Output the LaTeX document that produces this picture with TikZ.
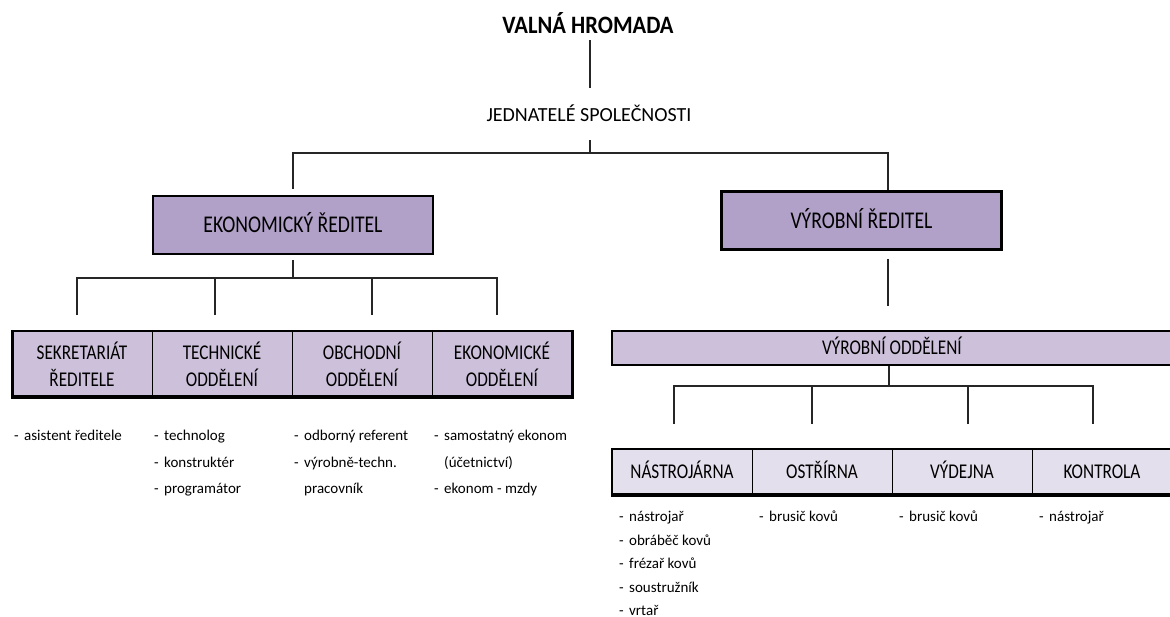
\documentclass[tikz,border=0pt]{standalone}
\usepackage{fontspec}
\setmainfont{Carlito}
\newfontfamily\boxfont{Carlito}[FakeStretch=0.82]
\newfontfamily\headfont{Carlito}[FakeStretch=0.9]
\definecolor{chiefpurple}{HTML}{B1A0C7}
\definecolor{deptpurple}{HTML}{CCC0DA}
\definecolor{shoplilac}{HTML}{E4DFEC}
\tikzstyle{head}=[inner sep=0pt,text height=16pt,text depth=0pt,font=\headfont\bfseries\fontsize{25}{30}\selectfont]
\tikzstyle{board}=[inner sep=0pt,text height=13pt,text depth=0pt,font=\fontsize{20}{24}\selectfont]
\tikzstyle{chief}=[draw=black,line width=2.5pt,fill=chiefpurple,minimum width=280pt,minimum height=58pt,inner sep=0pt,text height=15pt,text depth=0pt,font=\boxfont\fontsize{24}{28}\selectfont]
\tikzstyle{dept}=[draw=black,line width=0.8pt,fill=deptpurple,minimum width=140pt,minimum height=66pt,inner sep=0pt,align=center,font=\boxfont\fontsize{21}{27}\selectfont]
\tikzstyle{shop}=[draw=black,line width=0.8pt,fill=shoplilac,minimum width=140pt,minimum height=46pt,inner sep=0pt,text height=13.5pt,text depth=0pt,font=\boxfont\fontsize{21}{27}\selectfont]
\tikzstyle{frame}=[draw=black,line width=2.2pt]
\tikzstyle{duties}=[anchor=north west,inner sep=0pt,align=left,font=\fontsize{15}{26.5}\selectfont]
\tikzstyle{shopduties}=[anchor=north west,inner sep=0pt,align=left,font=\fontsize{15}{23.5}\selectfont]
\tikzstyle{tree}=[draw=black!85,line width=1.6pt]
\newcommand{\itemdash}{\makebox[10pt][l]{-}}
\newcommand{\itemgap}{\hspace*{10pt}}

\begin{document}
\begin{tikzpicture}[x=1pt,y=-1pt]
\useasboundingbox (0,0) rectangle (1170,616);
\clip (0,0) rectangle (1170,616);

\node[head] (valna) at (588,25) {VALNÁ HROMADA};
\node[board] (jedn) at (589,115) {JEDNATELÉ SPOLEČNOSTI};
\node[chief] (ekred) at (293,225) {EKONOMICKÝ ŘEDITEL};
\node[chief] (vyred) at (861.5,220.5) {VÝROBNÍ ŘEDITEL};

% economic departments
\node[dept] (sekr) at (82,364) {SEKRETARIÁT\\ŘEDITELE};
\node[dept] (tech) at (222,364) {TECHNICKÉ\\ODDĚLENÍ};
\node[dept] (obch) at (362,364) {OBCHODNÍ\\ODDĚLENÍ};
\node[dept] (ekod) at (502,364) {EKONOMICKÉ\\ODDĚLENÍ};
\draw[frame] (sekr.north west) rectangle (ekod.south east);
\draw[line width=3.5pt] ([yshift=1pt]sekr.south west) -- ([yshift=1pt]ekod.south east);
\draw[line width=3.5pt] ([xshift=1pt]sekr.north west) -- ([xshift=1pt]sekr.south west);

% production
\node[dept,minimum width=560pt,minimum height=34pt,line width=2.6pt,text height=13.5pt,text depth=0pt] (vyodd) at (892,348) {VÝROBNÍ ODDĚLENÍ};
\node[shop] (nastr) at (682,472) {NÁSTROJÁRNA};
\node[shop] (ostr) at (822,472) {OSTŘÍRNA};
\node[shop] (vydej) at (962,472) {VÝDEJNA};
\node[shop] (kontr) at (1102,472) {KONTROLA};
\draw[frame] (nastr.north west) rectangle (kontr.south east);
\draw[line width=3.5pt] ([yshift=1pt]nastr.south west) -- ([yshift=1pt]kontr.south east);

% job lists
\node[duties] (sekrD) at (14,430) {\itemdash asistent ředitele};
\node[duties] (techD) at (154,430) {\itemdash technolog\\\itemdash konstruktér\\\itemdash programátor};
\node[duties] (obchD) at (294,430) {\itemdash odborný referent\\\itemdash výrobně-techn.\\\itemgap pracovník};
\node[duties] (ekodD) at (434,430) {\itemdash samostatný ekonom\\\itemgap (účetnictví)\\\itemdash ekonom - mzdy};
\node[shopduties] (nastrD) at (619,511) {\itemdash nástrojař\\\itemdash obráběč kovů\\\itemdash frézař kovů\\\itemdash soustružník\\\itemdash vrtař};
\node[shopduties] (ostrD) at (759,511) {\itemdash brusič kovů};
\node[shopduties] (vydejD) at (899,511) {\itemdash brusič kovů};
\node[shopduties] (kontrD) at (1039,511) {\itemdash nástrojař};

% tree lines
\coordinate (busT) at (590,153);
\coordinate (vyx) at (888,190);
\draw[tree,shorten <=7pt,shorten >=20.5pt] (valna.south -| busT) -- (jedn.north -| busT);
\draw[tree,shorten <=18.5pt] (jedn.south -| busT) -- (busT);
\draw[tree] ([yshift=6pt]ekred.north) |- (busT) -| (vyx);

\coordinate (busE) at (293,278);
\coordinate (dropA) at (77,315);
\coordinate (dropB) at (215,315);
\coordinate (dropC) at (372,315);
\coordinate (dropD) at (497,315);
\draw[tree,shorten <=5pt] (ekred.south) -- (busE);
\draw[tree] (dropA) -- (dropA |- busE) -- (dropD |- busE) -- (dropD);
\draw[tree] (dropB) -- (dropB |- busE);
\draw[tree] (dropC) -- (dropC |- busE);

\coordinate (vydrop) at (888,306);
\draw[tree,shorten <=8pt] (vyred.south -| vydrop) -- (vydrop);

\coordinate (busV) at (889,386);
\coordinate (dropE) at (674,424);
\coordinate (dropF) at (812,424);
\coordinate (dropG) at (968,424);
\coordinate (dropH) at (1093,424);
\draw[tree] (vyodd.south -| busV) -- (busV);
\draw[tree] (dropE) -- (dropE |- busV) -- (dropH |- busV) -- (dropH);
\draw[tree] (dropF) -- (dropF |- busV);
\draw[tree] (dropG) -- (dropG |- busV);
\end{tikzpicture}
\end{document}
